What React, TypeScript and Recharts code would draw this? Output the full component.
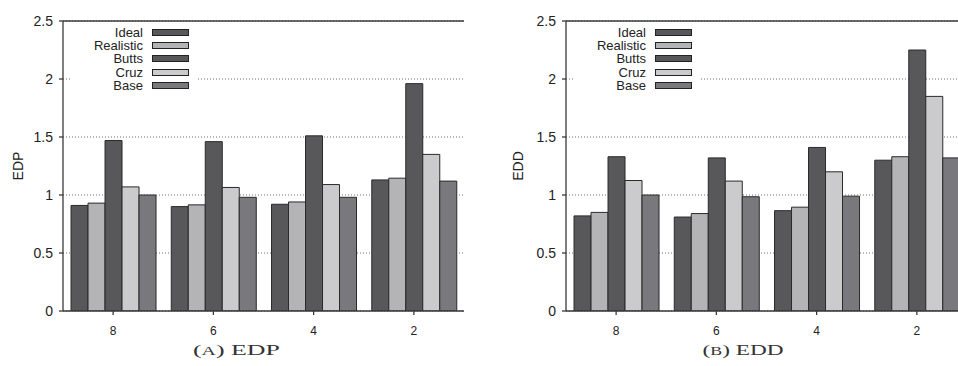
import { Bar, BarChart, CartesianGrid, Legend, ReferenceLine, XAxis, YAxis } from "recharts"

const groups = ["8", "6", "4", "2"]
const seriesNames = ["Ideal", "Realistic", "Butts", "Cruz", "Base"]
const seriesColors = ["#58585b", "#b4b4b7", "#58585b", "#cbcbcd", "#79797d"]
const yTicks = [0, 0.5, 1, 1.5, 2, 2.5]

// EDP panel
const edpIdeal = [0.91, 0.9, 0.92, 1.13]
const edpRealistic = [0.93, 0.915, 0.94, 1.145]
const edpButts = [1.47, 1.46, 1.51, 1.96]
const edpCruz = [1.07, 1.065, 1.09, 1.35]
const edpBase = [1.0, 0.98, 0.98, 1.12]

// EDD panel
const eddIdeal = [0.82, 0.81, 0.865, 1.3]
const eddRealistic = [0.85, 0.84, 0.895, 1.33]
const eddButts = [1.33, 1.32, 1.41, 2.25]
const eddCruz = [1.125, 1.12, 1.2, 1.85]
const eddBase = [1.0, 0.985, 0.99, 1.32]

const buildRows = (cols: number[][]) =>
    groups.map((g, i) => {
        const row: Record<string, string | number> = { group: g }
        seriesNames.forEach((name, k) => (row[name] = cols[k][i]))
        return row
    })

const edpData = buildRows([edpIdeal, edpRealistic, edpButts, edpCruz, edpBase])
const eddData = buildRows([eddIdeal, eddRealistic, eddButts, eddCruz, eddBase])

const sans = "'Liberation Sans', Arial, Helvetica, sans-serif"
const axisColor = "#3a3a3a"

function LegendBox({ payload }: any) {
    // keep the series order, not the alphabetical one
    const items = [...(payload || [])].sort(
        (a: any, b: any) => seriesNames.indexOf(a.value) - seriesNames.indexOf(b.value)
    )
    return (
        <div style={{ background: "#fff", width: 128, padding: "2.5px 0 3px 0", fontFamily: sans, fontSize: 13, color: "#222" }}>
            {items.map((entry: any) => (
                <div key={entry.value} style={{ display: "flex", alignItems: "center", height: 13.35, lineHeight: "13.35px" }}>
                    <span style={{ width: 73, textAlign: "right", whiteSpace: "nowrap" }}>{entry.value}</span>
                    <span
                        style={{
                            marginLeft: 8.5,
                            width: 37,
                            height: 7,
                            boxSizing: "border-box",
                            border: "1px solid #222",
                            background: entry.color,
                        }}
                    />
                </div>
            ))}
        </div>
    )
}

function Panel({ data, label, labelX }: { data: any[]; label: string; labelX: number }) {
    return (
        <BarChart
            width={470}
            height={340}
            data={data}
            margin={{ top: 21, right: 6, bottom: 4, left: 0 }}
            barCategoryGap="8%"
            barGap={0}
        >
            <CartesianGrid vertical={false} stroke="#707070" strokeDasharray="1 2" />
            <XAxis
                dataKey="group"
                height={25}
                stroke={axisColor}
                strokeWidth={1.3}
                tickSize={4}
                tickMargin={11}
                tick={{ fontFamily: sans, fontSize: 12, fill: "#222" }}
                interval={0}
            />
            <YAxis
                width={63}
                domain={[0, 2.5]}
                ticks={yTicks}
                allowDataOverflow
                stroke={axisColor}
                strokeWidth={1.3}
                tickSize={4}
                tickMargin={6}
                tick={{ fontFamily: sans, fontSize: 14, fill: "#222" }}
                label={{
                    content: ({ viewBox }: any) => {
                        const cy = viewBox.y + viewBox.height / 2
                        return (
                            <text
                                x={labelX}
                                y={cy}
                                transform={`rotate(-90, ${labelX}, ${cy})`}
                                textAnchor="middle"
                                dominantBaseline="central"
                                fontFamily={sans}
                                fontSize={14}
                                fill="#222"
                            >
                                {label}
                            </text>
                        )
                    },
                }}
            />
            <YAxis
                yAxisId="r"
                orientation="right"
                width={0}
                domain={[0, 2.5]}
                ticks={yTicks}
                stroke={axisColor}
                strokeWidth={1.3}
                tickSize={4}
                tickFormatter={() => ""}
            />
            <ReferenceLine y={2.5} stroke={axisColor} strokeWidth={1.5} />
            {seriesNames.map((name, k) => (
                <Bar
                    key={name}
                    dataKey={name}
                    name={name}
                    fill={seriesColors[k]}
                    stroke="#2a2a2a"
                    strokeWidth={1}
                    isAnimationActive={false}
                />
            ))}
            <Legend
                layout="vertical"
                align="center"
                verticalAlign="middle"
                wrapperStyle={{ left: 70, top: 23, width: 128, height: "auto" }}
                content={<LegendBox />}
            />
        </BarChart>
    )
}

export default function App() {
    return (
        <div style={{ position: "absolute", left: 0, top: 0, width: 958, height: 366, overflow: "hidden", background: "#fff" }}>
            <div style={{ position: "absolute", left: 0, top: 0 }}>
                <Panel data={edpData} label="EDP" labelX={18} />
            </div>
            <div style={{ position: "absolute", left: 503, top: 0 }}>
                <Panel data={eddData} label="EDD" labelX={15} />
            </div>
            <svg width={958} height={366} style={{ position: "absolute", left: 0, top: 0, pointerEvents: "none" }}>
                <text x={236.5} y={355} textAnchor="middle" textLength={87} lengthAdjust="spacingAndGlyphs" fontFamily="'Liberation Serif', 'DejaVu Serif', serif" fontSize={15} fill="#333">
                    (<tspan fontSize={11.5}>A</tspan>) EDP
                </text>
                <text x={743} y={355} textAnchor="middle" textLength={81} lengthAdjust="spacingAndGlyphs" fontFamily="'Liberation Serif', 'DejaVu Serif', serif" fontSize={15} fill="#333">
                    (<tspan fontSize={11.5}>B</tspan>) EDD
                </text>
            </svg>
        </div>
    )
}
